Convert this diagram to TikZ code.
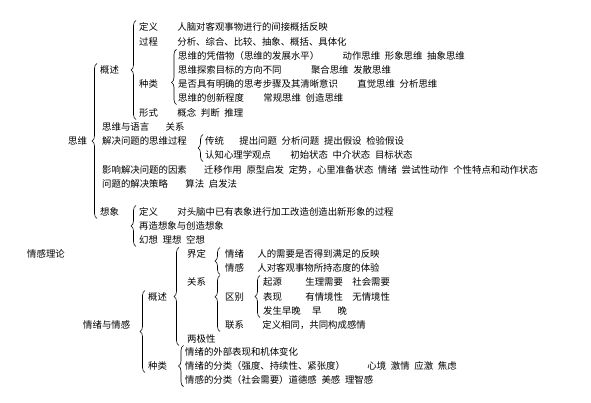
\documentclass[tikz,border=0pt]{standalone}
\usepackage{fontspec}
\setmainfont{Noto Sans CJK SC}
\usetikzlibrary{positioning, decorations.pathreplacing}

\begin{document}
\begin{tikzpicture}[x=1pt, y=-1pt]
		\tikzset{node distance=19pt,
			tx/.style={inner sep=0pt, anchor=west, font=\fontsize{9.4}{11}\selectfont},
			brc/.style={decorate, decoration={brace, amplitude=5pt, aspect=#1}, line width=0.6pt},
			brc/.default=0.5,
		}
		\useasboundingbox (0,0) rectangle (591,403);

		% 思维
		\node[tx] (sw) at (68,141) {思维};
		\node[tx] (gs) at (100,70) {概述};
		\node[tx] (dy) at (139,27) {定义};
		\node[tx, right=of dy] (dyt) {人脑对客观事物进行的间接概括反映};
		\node[tx] (gc) at (139,42) {过程};
		\node[tx, right=of gc] (gct) {分析、综合、比较、抽象、概括、具体化};
		\node[tx] (zl) at (139,84) {种类};
		\node[tx] (pj) at (178,56) {思维的凭借物（思维的发展水平）};
		\node[tx, right=23pt of pj] (pjt) {动作思维\enskip 形象思维\enskip 抽象思维};
		\node[tx] (fx) at (178,70) {思维探索目标的方向不同};
		\node[tx, right=29pt of fx] (fxt) {聚合思维\enskip 发散思维};
		\node[tx] (mq) at (178,84) {是否具有明确的思考步骤及其清晰意识};
		\node[tx, right=of mq] (mqt) {直觉思维\enskip 分析思维};
		\node[tx] (cx) at (178,98) {思维的创新程度};
		\node[tx, right=of cx] (cxt) {常规思维\enskip 创造思维};
		\node[tx] (xs) at (139,113) {形式};
		\node[tx, right=of xs] (xst) {概念\enskip 判断\enskip 推理};
		\node[tx] (yy) at (102,127) {思维与语言};
		\node[tx, right=16pt of yy] (yyt) {关系};
		\node[tx] (jj) at (102,141) {解决问题的思维过程};
		\node[tx] (ct) at (205,141) {传统};
		\node[tx, right=15pt of ct] (ctt) {提出问题\enskip 分析问题\enskip 提出假设\enskip 检验假设};
		\node[tx] (rz) at (205,155) {认知心理学观点};
		\node[tx, right=of rz] (rzt) {初始状态\enskip 中介状态\enskip 目标状态};
		\node[tx] (yx) at (102,170) {影响解决问题的因素};
		\node[tx, right=17pt of yx] (yxt) {迁移作用\enskip 原型启发\enskip 定势，心里准备状态\enskip 情绪\enskip 尝试性动作\enskip 个性特点和动作状态};
		\node[tx] (cl) at (102,184) {问题的解决策略};
		\node[tx, right=17pt of cl] (clt) {算法\enskip 启发法};
		\node[tx] (xx) at (100,212) {想象};
		\node[tx] (xdy) at (139,212) {定义};
		\node[tx, right=of xdy] (xdyt) {对头脑中已有表象进行加工改造创造出新形象的过程};
		\node[tx] (zz) at (139,226) {再造想象与创造想象};
		\node[tx] (hx) at (139,240) {幻想\enskip 理想\enskip 空想};

		% 情感理论
		\node[tx] (qgl) at (27,254) {情感理论};
		\node[tx] (qx) at (83,325) {情绪与情感};
		\node[tx] (gs2) at (148,297) {概述};
		\node[tx] (zl2) at (148,366) {种类};
		\node[tx] (jd) at (187,254) {界定};
		\node[tx] (gx) at (187,282) {关系};
		\node[tx] (ljx) at (187,339) {两极性};
		\node[tx] (qx1) at (225,254) {情绪};
		\node[tx, right=13pt of qx1] (qx1t) {人的需要是否得到满足的反映};
		\node[tx] (qg1) at (225,268) {情感};
		\node[tx, right=13pt of qg1] (qg1t) {人对客观事物所持态度的体验};
		\node[tx] (qb) at (225,297) {区别};
		\node[tx] (lx) at (225,325) {联系};
		\node[tx, right=18pt of lx] (lxt) {定义相同，共同构成感情};
		\node[tx] (qy) at (263,282) {起源};
		\node[tx, right=23pt of qy] (qyt) {生理需要\quad 社会需要};
		\node[tx] (bx) at (263,297) {表现};
		\node[tx, right=23pt of bx] (bxt) {有情境性\quad 无情境性};
		\node[tx] (fs) at (263,311) {发生早晚};
		\node[tx, right=11pt of fs] (fst) {早\hspace{1.7em}晚};
		\node[tx] (wb) at (185,352) {情绪的外部表现和机体变化};
		\node[tx] (fl1) at (185,366) {情绪的分类（强度、持续性、紧张度）};
		\node[tx, right=22pt of fl1] (fl1t) {心境\enskip 激情\enskip 应激\enskip 焦虑};
		\node[tx] (fl2) at (185,380) {情感的分类（社会需要）道德感\enskip 美感\enskip 理智感};

		\coordinate (gxt) at (gx.north -| lx.west);

		% braces
		\draw[brc] ([xshift=-3pt,yshift=-2pt]xx.south west) -- ([xshift=-3pt,yshift=2pt]gs.north west);
		\draw[brc] ([xshift=-3pt,yshift=-2pt]xs.south west) -- ([xshift=-3pt,yshift=2pt]dy.north west);
		\draw[brc=0.4] ([xshift=-1.5pt,yshift=-2pt]cx.south west) -- ([xshift=-1.5pt,yshift=2pt]pj.north west);
		\draw[brc] ([xshift=-2pt,yshift=-2pt]rz.south west) -- ([xshift=-2pt,yshift=2pt]ct.north west);
		\draw[brc] ([xshift=-3pt,yshift=-2pt]hx.south west) -- ([xshift=-3pt,yshift=2pt]xdy.north west);
		\draw[brc] ([xshift=-3pt,yshift=-2pt]zl2.south west) -- ([xshift=-3pt,yshift=2pt]gs2.north west);
		\draw[brc] ([xshift=-8pt,yshift=-2pt]ljx.south west) -- ([xshift=-8pt,yshift=2pt]jd.north west);
		\draw[brc] ([xshift=-5pt,yshift=-2pt]qg1.south west) -- ([xshift=-5pt,yshift=2pt]qx1.north west);
		\draw[brc=0.62] ([xshift=-5pt,yshift=-2pt]lx.south west) -- ([xshift=-5pt,yshift=2pt]gxt);
		\draw[brc] ([xshift=-3pt,yshift=-2pt]fs.south west) -- ([xshift=-3pt,yshift=2pt]qy.north west);
		\draw[brc] ([xshift=-1.5pt,yshift=-2pt]fl2.south west) -- ([xshift=-1.5pt,yshift=2pt]wb.north west);

	\end{tikzpicture}
\end{document}
